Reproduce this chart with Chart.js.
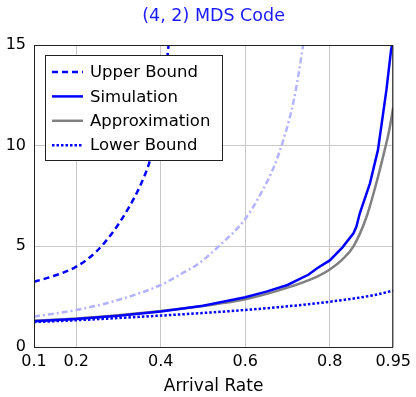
<!DOCTYPE html>
<html lang="en">
<head>
    <meta charset="UTF-8">
    <title>(4,2) MDS Code</title>
    <script src="https://cdn.jsdelivr.net/npm/chart.js"></script>
    <style>
        body { margin: 0; background: #fff; }
        #wrap { width: 416px; height: 397px; }
    </style>
</head>
<body>
    <div id="wrap"><canvas id="mdsChart"></canvas></div>

    <script>
        // Data
        const upperX = [0.1, 0.15, 0.2, 0.247, 0.29, 0.325, 0.35, 0.372, 0.39, 0.4, 0.41, 0.425];
        const upperY = [3.24, 3.55, 3.99, 4.73, 5.8, 6.95, 7.95, 9.1, 10.5, 11.8, 13.3, 16.4];

        const simX = [0.1, 0.2, 0.3, 0.4, 0.5, 0.6, 0.65, 0.7, 0.75, 0.77, 0.8, 0.83, 0.856, 0.863, 0.871, 0.895, 0.914, 0.934, 0.945, 0.95];
        const simY = [1.28, 1.39, 1.55, 1.76, 2.05, 2.47, 2.75, 3.08, 3.6, 3.91, 4.3, 4.95, 5.65, 5.98, 6.64, 8.13, 9.79, 12.77, 14.75, 15.3];

        const approxX = [0.1, 0.2, 0.3, 0.4, 0.5, 0.6, 0.7, 0.77, 0.8, 0.83, 0.856, 0.887, 0.91, 0.93, 0.94, 0.95];
        const approxY = [1.31, 1.42, 1.58, 1.79, 2.04, 2.37, 2.95, 3.5, 3.85, 4.35, 5.0, 6.47, 8.13, 9.79, 10.7, 11.9];

        const lowerX = [0.1, 0.2, 0.3, 0.4, 0.5, 0.6, 0.7, 0.8, 0.9, 0.95];
        const lowerY = [1.24, 1.33, 1.44, 1.56, 1.69, 1.84, 2.02, 2.25, 2.56, 2.8];

        const extraX = [0.1, 0.2, 0.285, 0.4, 0.45, 0.49, 0.536, 0.598, 0.637, 0.668, 0.69, 0.715, 0.735, 0.745];
        const extraY = [1.51, 1.84, 2.25, 3.08, 3.65, 4.15, 4.98, 6.31, 7.63, 8.96, 10.28, 12.27, 14.75, 16.2];

        const xTicks = [0.1, 0.2, 0.4, 0.6, 0.8, 0.95];

        const FONT = "'DejaVu Sans', sans-serif";

        function pts(xs, ys) {
            return xs.map((x, i) => ({ x: x, y: ys[i] }));
        }

        // Title centred over the plot area, frame and legend drawn inside it
        const decorPlugin = {
            id: 'decor',
            afterDatasetsDraw(chart) {
                const ctx = chart.ctx;
                const a = chart.chartArea;
                ctx.save();
                ctx.strokeStyle = '#222';
                ctx.lineWidth = 1;
                ctx.strokeRect(a.left + 0.5, a.top + 0.5, a.right - a.left - 1, a.bottom - a.top);

                // legend box
                const bx = 45, by = 55, bw = 177, bh = 105;
                ctx.fillStyle = '#fff';
                ctx.fillRect(bx, by, bw, bh);
                ctx.strokeRect(bx + 0.5, by + 0.5, bw, bh);

                ctx.font = '16.5px ' + FONT;
                ctx.textBaseline = 'middle';
                const shown = chart.data.datasets.filter(d => d.label);
                shown.forEach((d, i) => {
                    const y = 72 + i * 24.4;
                    ctx.beginPath();
                    ctx.setLineDash(d.borderDash || []);
                    ctx.strokeStyle = d.borderColor;
                    ctx.lineWidth = d.borderWidth;
                    ctx.moveTo(52, y);
                    ctx.lineTo(83, y);
                    ctx.stroke();
                    ctx.setLineDash([]);
                    ctx.fillStyle = '#000';
                    ctx.fillText(d.label, 90, y + 1);
                });

                // title
                ctx.fillStyle = '#1a1aff';
                ctx.font = '17.5px ' + FONT;
                ctx.textAlign = 'center';
                ctx.fillText('(4, 2) MDS Code', (a.left + a.right) / 2, 16);
                ctx.restore();
            }
        };

        const ctx = document.getElementById('mdsChart').getContext('2d');
        new Chart(ctx, {
            type: 'line',
            data: {
                datasets: [
                    {
                        label: 'Upper Bound',
                        data: pts(upperX, upperY),
                        borderColor: '#0000ff',
                        borderWidth: 2.5,
                        borderDash: [6, 4],
                        cubicInterpolationMode: 'monotone'
                    },
                    {
                        label: 'Simulation',
                        data: pts(simX, simY),
                        borderColor: '#0000ff',
                        borderWidth: 2.5,
                        tension: 0
                    },
                    {
                        label: 'Approximation',
                        data: pts(approxX, approxY),
                        borderColor: '#808080',
                        borderWidth: 2.5,
                        cubicInterpolationMode: 'monotone'
                    },
                    {
                        label: 'Lower Bound',
                        data: pts(lowerX, lowerY),
                        borderColor: '#0000ff',
                        borderWidth: 2.5,
                        borderDash: [2.5, 2],
                        cubicInterpolationMode: 'monotone'
                    },
                    {
                        label: '',
                        data: pts(extraX, extraY),
                        borderColor: '#b3b3ff',
                        borderWidth: 2.5,
                        borderDash: [6, 3, 2, 3],
                        cubicInterpolationMode: 'monotone'
                    }
                ]
            },
            options: {
                responsive: true,
                maintainAspectRatio: false,
                animation: false,
                elements: { point: { radius: 0 } },
                layout: { padding: { top: 45, right: 19, left: 0, bottom: 0 } },
                plugins: {
                    legend: { display: false },
                    title: { display: false },
                    tooltip: { enabled: false }
                },
                scales: {
                    x: {
                        type: 'linear',
                        min: 0.1,
                        max: 0.95,
                        afterBuildTicks: scale => {
                            scale.ticks = xTicks.map(v => ({ value: v }));
                        },
                        afterFit: scale => { scale.height = 50; },
                        grid: { color: '#c8c8c8', drawTicks: false },
                        border: { display: false },
                        ticks: {
                            color: '#000',
                            font: { family: FONT, size: 16 },
                            padding: 5,
                            maxRotation: 0,
                            callback: v => String(v)
                        },
                        title: {
                            display: true,
                            text: 'Arrival Rate',
                            color: '#000',
                            font: { family: FONT, size: 17 },
                            padding: { top: 0, bottom: 0 }
                        }
                    },
                    y: {
                        min: 0,
                        max: 15,
                        ticks: {
                            stepSize: 5,
                            color: '#000',
                            font: { family: FONT, size: 16 },
                            padding: 8
                        },
                        afterFit: scale => { scale.width = 34; },
                        grid: { color: '#c8c8c8', drawTicks: false },
                        border: { display: false }
                    }
                }
            },
            plugins: [decorPlugin]
        });
    </script>
</body>
</html>
